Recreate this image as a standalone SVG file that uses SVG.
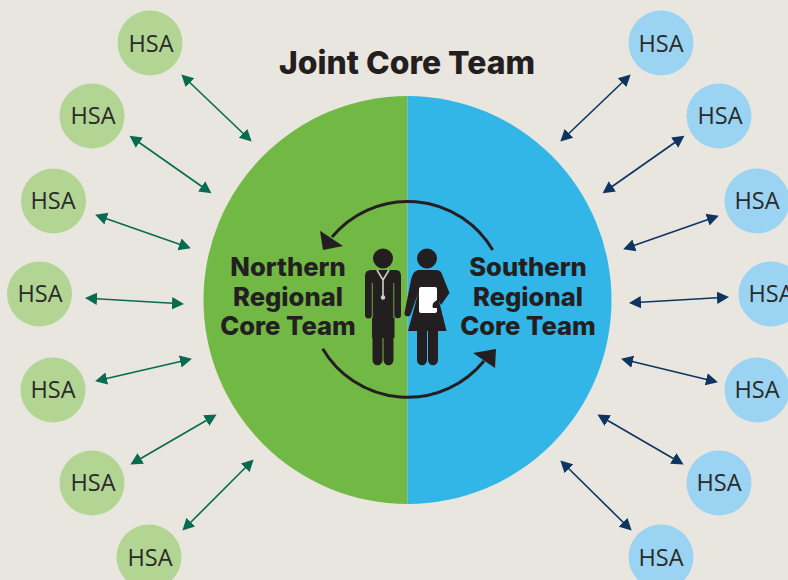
<svg xmlns="http://www.w3.org/2000/svg" width="788" height="580" viewBox="0 0 788 580">
<style>
.n circle{fill:#b2d594}
.s circle{fill:#9bd3f2}
.h{font-family:"Open Sans","Noto Sans",sans-serif;font-size:23.5px;fill:#2a2a2a;text-anchor:middle}
.b{font-family:Inter,"Liberation Sans",sans-serif;font-weight:800;fill:#231f20;text-anchor:middle;font-size:25.6px}
.g{stroke:#076b50;stroke-width:1.6;fill:none;marker-start:url(#mg);marker-end:url(#mg)}
.d{stroke:#0d3560;stroke-width:1.6;fill:none;marker-start:url(#md);marker-end:url(#md)}
.k{fill:#231f20}
.c{fill:none;stroke:#231f20;stroke-width:3}
</style>
<defs>
<marker id="mg" markerUnits="userSpaceOnUse" markerWidth="14" markerHeight="14" refX="9" refY="7" orient="auto-start-reverse"><path d="M0 0.8L12 7L0 13.2Z" fill="#076b50"/></marker>
<marker id="md" markerUnits="userSpaceOnUse" markerWidth="14" markerHeight="14" refX="9" refY="7" orient="auto-start-reverse"><path d="M0 0.8L12 7L0 13.2Z" fill="#0d3560"/></marker>
</defs>
<rect width="788" height="580" fill="#e9e6e0"/>
<g id="core-circle">
<path d="M407.5 96A204 204 0 0 0 407.5 504Z" fill="#72b844"/>
<path d="M407.5 96A204 204 0 0 1 407.5 504Z" fill="#31b6e7"/>
</g>
<text id="title" x="407" y="74" class="b" style="font-size:31.9px">Joint Core Team</text>
<g id="connectors">
<line class="g" x1="183.5" y1="76.500" x2="249.500" y2="139.500"/>
<line class="g" x1="132" y1="137.500" x2="209" y2="191.500"/>
<line class="g" x1="98" y1="215.700" x2="188" y2="247.300"/>
<line class="g" x1="88" y1="298.200" x2="181" y2="303.800"/>
<line class="g" x1="98" y1="380.500" x2="189" y2="359.500"/>
<line class="g" x1="133" y1="463" x2="214" y2="416"/>
<line class="g" x1="184.500" y1="528.500" x2="251.500" y2="461.500"/>
<line class="d" x1="628.500" y1="76.500" x2="562.500" y2="139.500"/>
<line class="d" x1="682" y1="137.500" x2="605" y2="191.500"/>
<line class="d" x1="716" y1="216.700" x2="626" y2="248.300"/>
<line class="d" x1="726" y1="297.200" x2="632" y2="302.800"/>
<line class="d" x1="715" y1="381.500" x2="624" y2="359.500"/>
<line class="d" x1="681" y1="463" x2="600" y2="416"/>
<line class="d" x1="629.500" y1="528.500" x2="562.500" y2="462.500"/>
</g>
<g id="hsa-n1" class="n"><circle cx="150" cy="43" r="32.5"/><text class="h" x="151" y="52">HSA</text></g>
<g id="hsa-n2" class="n"><circle cx="92" cy="116" r="32.5"/><text class="h" x="93" y="124">HSA</text></g>
<g id="hsa-n3" class="n"><circle cx="53.5" cy="201" r="32.5"/><text class="h" x="53" y="209">HSA</text></g>
<g id="hsa-n4" class="n"><circle cx="39.5" cy="294" r="32.5"/><text class="h" x="40" y="302">HSA</text></g>
<g id="hsa-n5" class="n"><circle cx="53" cy="390" r="32.5"/><text class="h" x="53" y="398">HSA</text></g>
<g id="hsa-n6" class="n"><circle cx="92" cy="483" r="32.5"/><text class="h" x="93" y="491">HSA</text></g>
<g id="hsa-n7" class="n"><circle cx="149" cy="557" r="32.5"/><text class="h" x="150" y="566">HSA</text></g>
<g id="hsa-s1" class="s"><circle cx="661" cy="43" r="32.5"/><text class="h" x="661" y="52">HSA</text></g>
<g id="hsa-s2" class="s"><circle cx="719" cy="116" r="32.5"/><text class="h" x="720" y="124">HSA</text></g>
<g id="hsa-s3" class="s"><circle cx="757" cy="201" r="32.5"/><text class="h" x="757" y="209">HSA</text></g>
<g id="hsa-s4" class="s"><circle cx="771" cy="294" r="32.5"/><text class="h" x="771" y="302">HSA</text></g>
<g id="hsa-s5" class="s"><circle cx="757" cy="390" r="32.5"/><text class="h" x="757" y="398">HSA</text></g>
<g id="hsa-s6" class="s"><circle cx="719" cy="483" r="32.5"/><text class="h" x="719" y="491">HSA</text></g>
<g id="hsa-s7" class="s"><circle cx="661" cy="557" r="32.5"/><text class="h" x="661" y="566">HSA</text></g>
<g id="northern"><text class="b" x="288" y="276">Northern</text><text class="b" x="288" y="306">Regional</text><text class="b" x="288" y="335">Core Team</text></g>
<g id="southern"><text class="b" x="528" y="276">Southern</text><text class="b" x="528" y="306">Regional</text><text class="b" x="528" y="335">Core Team</text></g>
<g id="cycle">
<path class="c" d="M492.700 250A98.500 98.500 0 0 0 332 237"/>
<path class="k" d="M320 230.700L323 250L343 246Z"/>
<path class="c" d="M322.700 348.700A98.500 98.500 0 0 0 484 361"/>
<path class="k" d="M496 349L473 353L495 368Z"/>
</g>
<g id="man">
<circle class="k" cx="383" cy="258.500" r="10"/>
<path class="k" d="M371 270H396Q401 270 401 276V315A3.200 3.200 0 0 1 394.500 315V338H372V315A3.200 3.200 0 0 1 365 315V276Q365 270 371 270Z"/>
<path class="k" d="M372.500 330H382.500V360A5 5.200 0 0 1 372.500 360Z M383.500 330H393.500V360A5 5.200 0 0 1 383.500 360Z"/>
<path d="M372.300 283V318M393.800 283V318" fill="none" stroke="#72b844" stroke-width="0.9"/>
<path d="M377 270L383 280L389 270M383 280V297" fill="none" stroke="#cfd0c8" stroke-width="1.6"/>
<circle cx="383" cy="297.500" r="2.200" fill="#cfd0c8"/>
</g>
<g id="woman">
<circle class="k" cx="427" cy="258.500" r="10"/>
<path class="k" d="M419 270H436Q440 270 441.500 273L449.500 293L441 305L439 301L446.500 331H408L418.500 292L410.800 314A3 3 0 0 1 404.600 312.500L411 280Q413 270 419 270Z"/>
<path class="k" d="M417 328H427V360A5 5.200 0 0 1 417 360Z M428 328H438V360A5 5.200 0 0 1 428 360Z"/>
<path d="M421 287H435Q437 287 437 289V300Q431 303 433 308L437 308V311Q437 313 435 313H421Q419 313 419 311V289Q419 287 421 287Z" fill="#fff"/>
</g>
</svg>
